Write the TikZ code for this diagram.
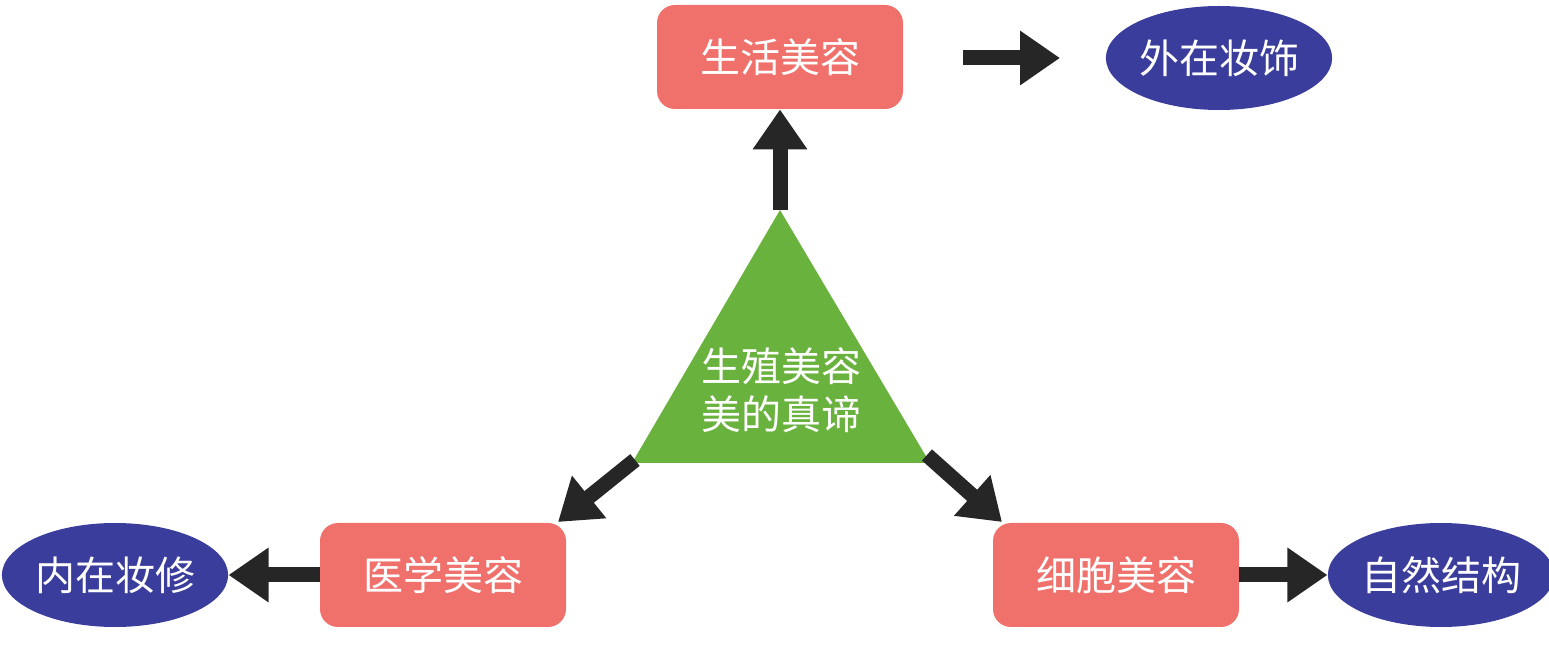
\documentclass[tikz,border=0pt]{standalone}
\usepackage{fontspec}
\setmainfont{Noto Sans CJK SC}
\usetikzlibrary{arrows.meta,shapes.geometric}
\definecolor{boxred}{HTML}{F0706C}
\definecolor{ellblue}{HTML}{3A3D9C}
\definecolor{trigreen}{HTML}{6AB23E}
\tikzset{
 box/.style={draw=none,fill=boxred,rounded corners=9pt,minimum width=123pt,minimum height=52pt,text=white,font=\fontsize{20}{22}\selectfont},
 ell/.style={ellipse,draw=none,fill=ellblue,text=white,font=\fontsize{20}{22}\selectfont,inner sep=0pt},
 arr/.style={line width=7.5pt,-{Triangle[length=20pt,width=26pt]},black!85}
}
\begin{document}
\begin{tikzpicture}[x=0.5pt,y=-0.5pt]
\useasboundingbox (0,0) rectangle (1549,662);
\node[box] (life) at (780,57) {生活美容};
\node[box] (med) at (443,575) {医学美容};
\node[box] (cell) at (1116,575) {细胞美容};
\node[ell,minimum width=110pt,minimum height=52pt] (outer) at (1219,58) {外在妆饰};
\node[ell,minimum width=112pt,minimum height=52pt] (inner) at (115,575) {内在妆修};
\node[ell,minimum width=106pt,minimum height=52pt] (nat) at (1441,575) {自然结构};
\coordinate (tA) at (780,210);
\coordinate (tL) at (632,463);
\coordinate (tR) at (930,463);
\fill[trigreen] (tA) -- (tL) -- (tR) -- cycle;
\node[text=white,font=\fontsize{20}{24}\selectfont,align=center] (core) at (781,390) {生殖美容\\美的真谛};
\coordinate (a1) at (963,58);
\coordinate (a2) at (1060,58);
\draw[arr] (a1) -- (a2);
\draw[arr] (tA) -- (life.south);
\draw[arr] ([shift={(3,-3)}]tL) -- (558,522);
\draw[arr] ([shift={(-3,-8)}]tR) -- (1002,522);
\draw[arr] (med.west) -- (inner.east);
\draw[arr] (cell.east) -- (nat.west);
\end{tikzpicture}
\end{document}
